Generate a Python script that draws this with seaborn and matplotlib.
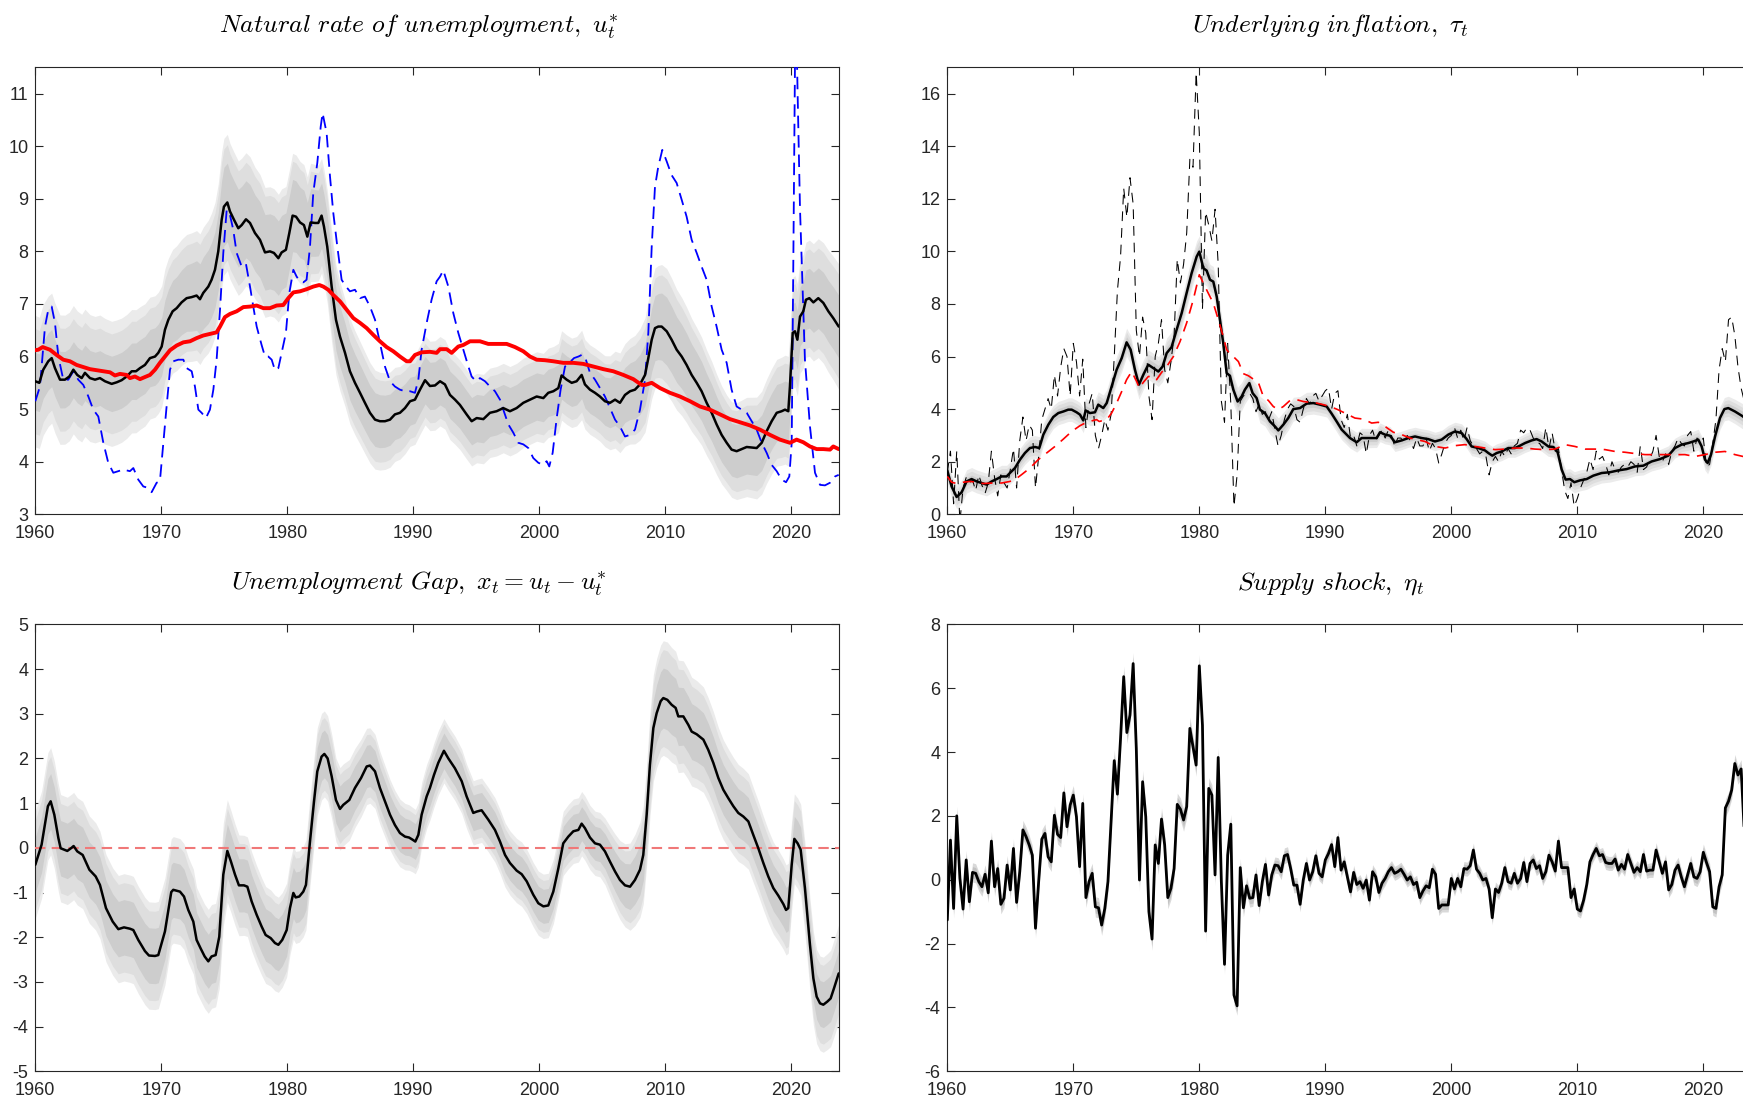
import numpy as np
import matplotlib
matplotlib.use("Agg")
import matplotlib.pyplot as plt
import seaborn as sns

# ---------------- data ----------------
# Natural rate of unemployment u*_t (median)
ustar_t = [1960.0, 1960.32, 1960.63, 1961.03, 1961.3, 1961.56, 1961.96, 1962.35, 1962.7, 1963.02, 1963.33, 1963.68,
           1963.94, 1964.34, 1964.74, 1965.13, 1965.53, 1966.06, 1966.46, 1966.85, 1967.25, 1967.65, 1967.99, 1968.31,
           1968.7, 1969.1, 1969.5, 1969.76, 1970.03, 1970.29, 1970.56, 1970.9, 1971.22, 1971.61, 1972.01, 1972.41,
           1972.8, 1973.07, 1973.33, 1973.73, 1973.99, 1974.26, 1974.52, 1974.79, 1974.97, 1975.24, 1975.45, 1975.77,
           1976.11, 1976.38, 1976.72, 1977.04, 1977.43, 1977.83, 1978.23, 1978.62, 1978.94, 1979.29, 1979.55, 1979.89,
           1980.16, 1980.42, 1980.69, 1981.01, 1981.32, 1981.59, 1981.85, 1982.2, 1982.46, 1982.72, 1982.91, 1983.17,
           1983.52, 1983.86, 1984.18, 1984.58, 1984.97, 1985.37, 1985.77, 1986.16, 1986.56, 1986.96, 1987.35, 1987.75,
           1988.15, 1988.54, 1988.94, 1989.34, 1989.74, 1990.13, 1990.53, 1990.93, 1991.32, 1991.72, 1992.12, 1992.51,
           1992.91, 1993.31, 1993.7, 1994.23, 1994.63, 1995.03, 1995.56, 1996.08, 1996.61, 1997.14, 1997.67, 1998.2,
           1998.73, 1999.26, 1999.79, 2000.32, 2000.71, 2001.11, 2001.51, 2001.77, 2002.17, 2002.57, 2002.96, 2003.36,
           2003.62, 2004.02, 2004.42, 2004.81, 2005.21, 2005.61, 2006.01, 2006.4, 2006.8, 2007.2, 2007.59, 2007.99,
           2008.39, 2008.65, 2008.92, 2009.18, 2009.44, 2009.71, 2010.11, 2010.5, 2010.9, 2011.3, 2011.69, 2012.09,
           2012.49, 2012.88, 2013.28, 2013.68, 2014.07, 2014.47, 2014.87, 2015.26, 2015.66, 2016.06, 2016.46, 2016.85,
           2017.25, 2017.65, 2018.04, 2018.44, 2018.84, 2019.23, 2019.5, 2019.76, 2019.89, 2020.11, 2020.29, 2020.48,
           2020.69, 2020.95, 2021.16, 2021.43, 2021.75, 2022.14, 2022.54, 2022.94, 2023.33, 2023.76]
ustar_v = [5.53, 5.50, 5.75, 5.91, 5.97, 5.78, 5.56, 5.56, 5.62, 5.75, 5.65, 5.59,
           5.69, 5.59, 5.56, 5.59, 5.53, 5.48, 5.51, 5.55, 5.62, 5.72, 5.72, 5.78,
           5.84, 5.97, 6.00, 6.07, 6.19, 6.51, 6.70, 6.86, 6.92, 7.03, 7.11, 7.13,
           7.16, 7.09, 7.21, 7.33, 7.46, 7.65, 8.00, 8.60, 8.85, 8.93, 8.76, 8.60,
           8.44, 8.50, 8.61, 8.54, 8.35, 8.22, 7.98, 8.00, 7.97, 7.87, 7.98, 8.03,
           8.35, 8.68, 8.66, 8.55, 8.50, 8.28, 8.55, 8.54, 8.54, 8.68, 8.47, 8.09,
           7.33, 6.70, 6.38, 6.07, 5.72, 5.50, 5.31, 5.12, 4.93, 4.80, 4.77, 4.77,
           4.80, 4.90, 4.93, 5.02, 5.15, 5.18, 5.37, 5.55, 5.44, 5.45, 5.53, 5.47,
           5.27, 5.18, 5.08, 4.90, 4.77, 4.83, 4.81, 4.93, 4.96, 5.02, 4.96, 5.02,
           5.12, 5.18, 5.24, 5.21, 5.31, 5.34, 5.40, 5.64, 5.56, 5.50, 5.53, 5.65,
           5.47, 5.37, 5.31, 5.24, 5.15, 5.12, 5.18, 5.12, 5.27, 5.34, 5.37, 5.47,
           5.65, 5.97, 6.32, 6.54, 6.57, 6.57, 6.48, 6.32, 6.13, 6.00, 5.84, 5.65,
           5.50, 5.34, 5.12, 4.93, 4.71, 4.51, 4.36, 4.23, 4.20, 4.24, 4.28, 4.27,
           4.26, 4.36, 4.58, 4.77, 4.93, 4.96, 4.99, 4.96, 5.43, 6.45, 6.48, 6.32,
           6.76, 6.86, 7.08, 7.11, 7.03, 7.11, 7.02, 6.86, 6.73, 6.57]

# Red line: reference natural-rate estimate
nairu_t = [1960.0, 1960.24, 1960.58, 1961.16, 1961.69, 1962.22, 1962.75, 1963.28, 1963.81, 1964.34, 1964.87, 1965.4,
           1965.93, 1966.32, 1966.72, 1967.25, 1967.51, 1967.91, 1968.31, 1968.7, 1969.1, 1969.5, 1969.89, 1970.29,
           1970.69, 1971.22, 1971.75, 1972.28, 1972.8, 1973.33, 1973.86, 1974.39, 1974.66, 1975.05, 1975.45, 1975.98,
           1976.51, 1977.04, 1977.57, 1978.1, 1978.62, 1979.15, 1979.68, 1980.08, 1980.48, 1981.01, 1981.53, 1982.06,
           1982.54, 1982.86, 1983.25, 1983.65, 1984.18, 1984.71, 1985.24, 1985.77, 1986.3, 1986.83, 1987.35, 1987.88,
           1988.41, 1988.94, 1989.47, 1989.74, 1990.13, 1990.66, 1991.32, 1991.85, 1992.12, 1992.65, 1993.04, 1993.57,
           1993.97, 1994.5, 1995.29, 1995.95, 1996.61, 1997.41, 1998.07, 1998.73, 1999.26, 1999.79, 2000.45, 2001.11,
           2001.9, 2002.7, 2003.49, 2004.29, 2005.08, 2005.87, 2006.67, 2007.46, 2008.12, 2008.39, 2008.92, 2009.58,
           2010.37, 2011.16, 2011.96, 2012.75, 2013.54, 2014.34, 2015.13, 2015.93, 2016.72, 2017.51, 2018.31, 2019.1,
           2019.89, 2020.42, 2020.95, 2021.48, 2022.01, 2022.54, 2023.07, 2023.33, 2023.76]
nairu_v = [6.12, 6.13, 6.18, 6.13, 6.03, 5.94, 5.91, 5.84, 5.80, 5.76, 5.74, 5.72,
           5.70, 5.64, 5.67, 5.65, 5.59, 5.62, 5.57, 5.61, 5.65, 5.75, 5.88, 6.00,
           6.12, 6.21, 6.27, 6.29, 6.35, 6.40, 6.43, 6.46, 6.57, 6.75, 6.81, 6.86,
           6.94, 6.95, 6.97, 6.92, 6.92, 6.97, 6.98, 7.11, 7.22, 7.24, 7.28, 7.33,
           7.36, 7.33, 7.27, 7.17, 7.05, 6.89, 6.73, 6.64, 6.54, 6.41, 6.29, 6.18,
           6.10, 6.00, 5.91, 5.91, 6.03, 6.08, 6.09, 6.07, 6.14, 6.14, 6.07, 6.19,
           6.22, 6.29, 6.29, 6.24, 6.24, 6.24, 6.18, 6.10, 6.00, 5.94, 5.93, 5.91,
           5.88, 5.88, 5.86, 5.81, 5.76, 5.72, 5.65, 5.57, 5.46, 5.46, 5.50, 5.40,
           5.31, 5.24, 5.15, 5.05, 4.99, 4.90, 4.81, 4.75, 4.69, 4.61, 4.51, 4.42,
           4.36, 4.42, 4.37, 4.29, 4.24, 4.24, 4.23, 4.29, 4.24]

# Blue dashed: unemployment rate u_t
unemp_t = [1960.0, 1960.37, 1960.77, 1961.03, 1961.3, 1961.56, 1961.83, 1962.22, 1962.62, 1963.02, 1963.41, 1963.81,
           1964.21, 1964.6, 1965.0, 1965.4, 1965.79, 1966.19, 1966.59, 1966.98, 1967.51, 1967.78, 1968.17, 1968.57,
           1968.97, 1969.23, 1969.63, 1969.89, 1970.16, 1970.42, 1970.69, 1970.95, 1971.35, 1971.75, 1972.01, 1972.41,
           1972.67, 1972.94, 1973.2, 1973.54, 1973.86, 1974.13, 1974.39, 1974.66, 1974.92, 1975.19, 1975.45, 1975.71,
           1975.98, 1976.38, 1976.72, 1977.04, 1977.3, 1977.57, 1977.96, 1978.23, 1978.49, 1978.76, 1979.02, 1979.29,
           1979.55, 1979.89, 1980.16, 1980.48, 1980.74, 1981.01, 1981.27, 1981.53, 1981.8, 1982.06, 1982.38, 1982.65,
           1982.8, 1983.12, 1983.39, 1983.65, 1983.97, 1984.31, 1984.66, 1984.97, 1985.37, 1985.77, 1986.16, 1986.56,
           1986.96, 1987.35, 1987.75, 1988.15, 1988.54, 1988.94, 1989.34, 1989.74, 1990.13, 1990.4, 1990.66, 1991.06,
           1991.45, 1991.85, 1992.12, 1992.38, 1992.78, 1993.17, 1993.57, 1993.97, 1994.37, 1994.63, 1994.97, 1995.29,
           1995.69, 1996.08, 1996.48, 1996.88, 1997.14, 1997.54, 1997.94, 1998.33, 1998.73, 1999.13, 1999.52, 1999.92,
           2000.32, 2000.58, 2000.79, 2001.06, 2001.38, 2001.69, 2002.04, 2002.38, 2002.75, 2003.1, 2003.36, 2003.62,
           2004.02, 2004.42, 2004.81, 2005.21, 2005.61, 2006.01, 2006.4, 2006.8, 2007.2, 2007.59, 2007.99, 2008.39,
           2008.65, 2008.92, 2009.18, 2009.44, 2009.76, 2010.11, 2010.5, 2010.9, 2011.3, 2011.69, 2012.09, 2012.49,
           2012.88, 2013.28, 2013.68, 2014.07, 2014.47, 2014.87, 2015.26, 2015.66, 2016.06, 2016.46, 2016.85, 2017.25,
           2017.65, 2018.04, 2018.44, 2018.84, 2019.23, 2019.58, 2019.84, 2020.03, 2020.16, 2020.34, 2020.5, 2020.69,
           2021.08, 2021.48, 2021.88, 2022.28, 2022.67, 2023.07, 2023.47, 2023.76]
unemp_v = [5.15, 5.43, 6.57, 6.89, 6.95, 6.64, 6.00, 5.56, 5.56, 5.72, 5.56, 5.46,
           5.24, 4.99, 4.86, 4.36, 3.98, 3.79, 3.82, 3.85, 3.82, 3.88, 3.66, 3.53,
           3.50, 3.42, 3.60, 3.63, 4.36, 5.05, 5.75, 5.91, 5.94, 5.94, 5.78, 5.72,
           5.43, 4.99, 4.93, 4.83, 4.99, 5.37, 5.94, 6.89, 7.97, 8.79, 8.69, 8.41,
           7.97, 7.71, 7.76, 7.33, 6.95, 6.57, 6.22, 6.00, 6.00, 5.94, 5.74, 5.78,
           6.07, 6.45, 7.21, 7.65, 7.52, 7.43, 7.41, 7.46, 8.09, 9.11, 9.68, 10.37,
           10.63, 10.25, 9.42, 8.73, 8.09, 7.46, 7.33, 7.24, 7.27, 7.11, 7.14, 6.95,
           6.70, 6.26, 5.81, 5.53, 5.43, 5.37, 5.34, 5.34, 5.31, 5.56, 6.13, 6.64,
           7.08, 7.43, 7.52, 7.64, 7.33, 6.83, 6.45, 6.13, 5.81, 5.62, 5.53, 5.59,
           5.53, 5.43, 5.34, 5.18, 4.99, 4.71, 4.55, 4.36, 4.33, 4.26, 4.07, 3.98,
           3.94, 4.01, 3.91, 4.17, 4.83, 5.37, 5.81, 5.88, 5.97, 6.00, 6.03, 6.00,
           5.69, 5.56, 5.40, 5.24, 5.02, 4.80, 4.67, 4.48, 4.51, 4.61, 4.99, 5.56,
           6.45, 8.09, 9.23, 9.61, 9.93, 9.71, 9.45, 9.30, 8.98, 8.66, 8.22, 7.97,
           7.71, 7.46, 6.95, 6.57, 6.13, 5.88, 5.37, 5.05, 4.99, 4.93, 4.77, 4.61,
           4.36, 4.17, 3.94, 3.82, 3.66, 3.61, 3.72, 4.36, 7.84, 13.0, 11.0, 8.80,
           5.94, 4.67, 3.79, 3.56, 3.55, 3.60, 3.72, 3.75]

# Underlying inflation tau_t (median)
tau_t = [1960.0, 1960.34, 1960.74, 1961.14, 1961.53, 1961.93, 1962.33, 1962.72, 1963.12, 1963.52, 1963.92, 1964.31,
         1964.71, 1965.03, 1965.37, 1965.77, 1966.16, 1966.56, 1966.96, 1967.3, 1967.62, 1968.02, 1968.41, 1968.81,
         1969.21, 1969.6, 1969.87, 1970.26, 1970.53, 1970.79, 1970.98, 1971.32, 1971.72, 1971.98, 1972.38, 1972.65,
         1973.04, 1973.44, 1973.84, 1974.23, 1974.55, 1974.89, 1975.21, 1975.56, 1975.95, 1976.35, 1976.75, 1977.09,
         1977.41, 1977.8, 1978.2, 1978.6, 1978.99, 1979.39, 1979.79, 1980.0, 1980.32, 1980.58, 1980.85, 1981.11,
         1981.38, 1981.64, 1981.9, 1982.17, 1982.43, 1982.7, 1983.04, 1983.36, 1983.62, 1983.97, 1984.23, 1984.55,
         1984.81, 1985.21, 1985.61, 1986.01, 1986.27, 1986.67, 1987.06, 1987.46, 1987.99, 1988.52, 1989.05, 1989.58,
         1990.11, 1990.5, 1990.9, 1991.3, 1991.96, 1992.49, 1992.88, 1993.41, 1994.07, 1994.34, 1994.74, 1995.13,
         1995.53, 1996.06, 1996.59, 1997.12, 1997.65, 1998.17, 1998.7, 1999.23, 1999.76, 2000.29, 2000.82, 2001.22,
         2001.61, 2002.14, 2002.67, 2002.94, 2003.25, 2003.6, 2003.99, 2004.52, 2005.05, 2005.45, 2005.85, 2006.38,
         2006.77, 2007.17, 2007.7, 2008.1, 2008.44, 2008.76, 2009.07, 2009.42, 2009.76, 2010.21, 2010.74, 2011.27,
         2011.93, 2012.59, 2013.25, 2013.92, 2014.58, 2015.24, 2015.9, 2016.56, 2017.22, 2017.75, 2018.28, 2018.81,
         2019.21, 2019.6, 2019.87, 2020.13, 2020.34, 2020.61, 2020.93, 2021.32, 2021.67, 2021.98, 2022.51, 2023.15,
         2023.5, 2023.75]
tau_v = [1.67, 1.06, 0.66, 0.84, 1.25, 1.34, 1.25, 1.19, 1.13, 1.25, 1.34, 1.44,
         1.44, 1.60, 1.76, 2.08, 2.33, 2.52, 2.56, 2.52, 3.03, 3.41, 3.70, 3.85,
         3.91, 3.98, 3.98, 3.88, 3.79, 3.57, 3.95, 3.85, 3.88, 4.17, 4.04, 4.23,
         4.86, 5.50, 5.94, 6.54, 6.26, 5.50, 4.93, 5.31, 5.69, 5.56, 5.43, 5.62,
         6.13, 6.36, 7.02, 7.65, 8.41, 9.17, 9.80, 9.99, 9.36, 9.27, 8.92, 8.85,
         8.28, 7.40, 6.51, 5.37, 5.27, 4.74, 4.29, 4.48, 4.74, 4.99, 4.61, 4.42,
         3.98, 3.85, 3.53, 3.34, 3.19, 3.41, 3.66, 4.00, 4.04, 4.21, 4.23, 4.17,
         4.10, 3.83, 3.53, 3.22, 2.90, 2.74, 2.90, 2.90, 2.90, 3.12, 3.03, 2.99,
         2.74, 2.81, 2.90, 2.96, 2.90, 2.86, 2.77, 2.84, 3.03, 3.15, 3.09, 2.86,
         2.58, 2.52, 2.43, 2.33, 2.23, 2.33, 2.39, 2.52, 2.52, 2.61, 2.71, 2.81,
         2.86, 2.77, 2.58, 2.56, 2.36, 1.70, 1.32, 1.34, 1.22, 1.29, 1.34, 1.47,
         1.57, 1.60, 1.67, 1.72, 1.82, 1.85, 2.01, 2.10, 2.23, 2.52, 2.65, 2.71,
         2.77, 2.84, 2.58, 2.08, 1.95, 2.27, 2.96, 3.66, 4.00, 4.04, 3.91, 3.72,
         3.55, 3.40]

# Red dashed: long-run inflation expectations
expect_t = [1960.0, 1960.34, 1960.74, 1961.27, 1961.8, 1962.33, 1962.86, 1963.65, 1964.31, 1964.97, 1965.37, 1965.9,
            1966.56, 1967.22, 1967.88, 1968.54, 1969.21, 1969.87, 1970.53, 1971.06, 1971.59, 1971.85, 1972.06, 1972.38,
            1972.65, 1973.04, 1973.44, 1973.84, 1974.23, 1974.63, 1975.03, 1975.24, 1975.56, 1975.95, 1976.35, 1976.61,
            1977.01, 1977.41, 1977.94, 1978.47, 1978.99, 1979.52, 1980.0, 1980.32, 1980.71, 1981.11, 1981.51, 1981.9,
            1982.17, 1982.49, 1982.7, 1983.1, 1983.49, 1983.89, 1984.29, 1984.68, 1985.08, 1985.48, 1985.87, 1986.27,
            1986.67, 1987.2, 1987.72, 1988.25, 1988.78, 1989.31, 1989.84, 1990.37, 1990.9, 1991.56, 1992.35, 1993.02,
            1993.68, 1994.21, 1994.74, 1995.4, 1996.06, 1996.72, 1997.25, 1997.91, 1998.7, 1999.5, 2000.29, 2001.08,
            2001.88, 2002.67, 2003.47, 2004.26, 2005.05, 2005.85, 2006.64, 2007.43, 2008.23, 2009.02, 2009.81, 2010.61,
            2011.4, 2012.2, 2012.99, 2013.78, 2014.58, 2015.37, 2016.16, 2016.96, 2017.75, 2018.54, 2019.34, 2020.13,
            2020.93, 2021.72, 2022.51, 2023.15, 2023.75]
expect_v = [1.44, 1.22, 1.17, 1.22, 1.25, 1.22, 1.17, 1.19, 1.19, 1.25, 1.32, 1.51,
            1.76, 2.08, 2.33, 2.58, 2.86, 3.15, 3.37, 3.50, 3.57, 3.60, 3.53, 3.57,
            3.60, 3.85, 4.23, 4.67, 5.12, 5.43, 5.05, 4.80, 5.02, 5.24, 5.24, 5.12,
            5.40, 5.62, 6.00, 6.57, 7.27, 8.16, 9.11, 8.79, 8.41, 8.03, 7.40, 6.76,
            6.26, 6.07, 6.00, 5.81, 5.35, 5.27, 5.14, 5.02, 4.48, 4.33, 4.10, 3.98,
            4.10, 4.33, 4.36, 4.29, 4.26, 4.23, 4.17, 4.10, 4.00, 3.85, 3.66, 3.62,
            3.47, 3.50, 3.34, 3.12, 3.03, 2.90, 2.84, 2.77, 2.58, 2.52, 2.61, 2.65,
            2.58, 2.52, 2.46, 2.48, 2.52, 2.52, 2.48, 2.46, 2.48, 2.65, 2.58, 2.48,
            2.48, 2.46, 2.39, 2.36, 2.31, 2.27, 2.27, 2.27, 2.27, 2.27, 2.20, 2.27,
            2.36, 2.39, 2.27, 2.20, 2.20]

# Quarterly series, 1960Q1 - 2023Q4
quarter_t = [1960 + q / 4 for q in range(256)]

# Black thin dashed: quarterly inflation
infl_v = [1.6, 2.4, 0.4, 2.4,  -0.3, 1.0, 1.4, 1.2,  1.3, 0.9, 1.5, 1.1,  0.8, 1.2, 2.4, 1.4,
          0.7, 1.5, 1.2, 1.0,  1.7, 2.5, 1.0, 2.8,  3.7, 2.8, 3.4, 3.2,  1.0, 2.2, 3.6, 4.0,
          4.4, 4.0, 5.3, 4.5,  5.6, 6.3, 6.0, 4.5,  6.5, 5.8, 4.5, 5.9,  3.3, 4.2, 4.6, 3.0,
          2.5, 3.0, 3.6, 3.2,  3.8, 6.0, 8.5, 9.8,  12.4, 11.3, 12.8, 11.8,  7.0, 6.0, 7.5, 6.9,
          4.5, 3.6, 6.0, 6.5,  7.4, 5.5, 5.0, 5.8,  6.8, 9.7, 8.8, 9.5,  10.7, 13.5, 13.2, 16.8,
          14.5, 7.8, 11.5, 11.0,  10.4, 11.6, 9.5, 4.3,  3.5, 6.5, 4.2, 0.3,  1.5, 4.3, 4.5, 4.6,
          4.6, 4.4, 3.9, 4.2,  3.8, 3.9, 3.6, 3.9,  3.2, 2.6, 3.0, 3.6,  4.0, 4.2, 4.1, 3.6,
          3.5, 4.0, 4.4, 4.2,  4.5, 4.6, 4.3, 4.5,  4.7, 4.8, 4.0, 4.6,  4.7, 3.6, 3.3, 3.8,
          2.9, 3.0, 2.6, 3.1,  3.0, 2.3, 3.0, 3.2,  2.8, 3.0, 3.2, 2.9,  3.2, 3.0, 2.6, 2.9,
          2.9, 2.7, 3.0, 2.8,  2.5, 2.9, 2.6, 2.6,  2.9, 2.4, 2.7, 2.5,  1.95, 2.3, 2.7, 2.9,
          3.0, 3.3, 2.9, 3.2,  2.8, 3.3, 2.8, 2.6,  2.5, 2.3, 2.4, 2.2,  1.5, 2.0, 2.2, 2.0,
          2.4, 2.2, 2.5, 2.3,  2.6, 2.7, 3.2, 3.1,  3.3, 3.2, 2.9, 2.7,  2.7, 2.5, 3.3, 2.5,
          3.1, 2.4, 2.5, 1.7,  0.9, 0.6, 1.2, 0.3,  0.6, 1.0, 1.3, 1.6,  2.1, 1.7, 2.4, 2.1,
          2.2, 1.9, 1.5, 2.0,  1.7, 1.6, 1.8, 1.9,  1.8, 2.0, 1.9, 1.6,  2.6, 1.7, 1.8, 2.1,
          2.4, 3.0, 2.2, 2.0,  2.3, 1.9, 2.4, 2.6,  2.9, 2.7, 2.6, 3.0,  3.15, 2.4, 2.9, 2.7,
          2.9, 1.8, 1.9, 2.7,  3.6, 5.5, 6.3, 5.8,  7.4, 7.5, 6.8, 5.6,  4.8, 4.3, 3.8, 3.4]

# Unemployment gap x_t (median)
gap_t = [1960.0, 1960.5, 1961.0, 1961.22, 1961.51, 1961.83, 1962.01, 1962.54, 1962.88, 1963.04, 1963.33, 1963.76,
         1964.29, 1964.79, 1965.13, 1965.61, 1966.14, 1966.59, 1967.04, 1967.51, 1967.78, 1968.17, 1968.7, 1969.02,
         1969.5, 1969.76, 1970.29, 1970.79, 1970.95, 1971.48, 1971.8, 1972.14, 1972.54, 1972.8, 1973.12, 1973.44,
         1973.73, 1973.99, 1974.31, 1974.6, 1974.92, 1975.24, 1975.53, 1975.85, 1976.16, 1976.56, 1976.83, 1977.17,
         1977.57, 1977.96, 1978.28, 1978.68, 1979.02, 1979.29, 1979.6, 1979.95, 1980.21, 1980.48, 1980.66, 1980.95,
         1981.27, 1981.48, 1981.8, 1982.12, 1982.38, 1982.72, 1982.94, 1983.2, 1983.52, 1983.86, 1984.18, 1984.44,
         1984.92, 1985.37, 1985.85, 1986.3, 1986.56, 1986.96, 1987.35, 1987.75, 1988.15, 1988.54, 1988.94, 1989.34,
         1989.66, 1989.95, 1990.16, 1990.4, 1990.66, 1991.06, 1991.32, 1991.64, 1991.98, 1992.43, 1992.78, 1993.3,
         1993.84, 1994.23, 1994.76, 1995.03, 1995.42, 1995.95, 1996.48, 1996.88, 1997.28, 1997.67, 1998.2, 1998.6,
         1999.0, 1999.52, 1999.92, 2000.32, 2000.71, 2001.11, 2001.51, 2001.9, 2002.3, 2002.7, 2003.1, 2003.36,
         2003.62, 2004.02, 2004.42, 2004.81, 2005.21, 2005.61, 2006.01, 2006.4, 2006.8, 2007.2, 2007.59, 2007.99,
         2008.25, 2008.52, 2008.78, 2009.05, 2009.31, 2009.63, 2009.84, 2010.16, 2010.5, 2010.82, 2011.03, 2011.43,
         2011.83, 2012.09, 2012.49, 2013.02, 2013.41, 2013.81, 2014.21, 2014.6, 2015.0, 2015.4, 2015.79, 2016.19,
         2016.59, 2016.98, 2017.38, 2017.78, 2018.17, 2018.57, 2018.97, 2019.37, 2019.58, 2019.76, 2020.03, 2020.24,
         2020.5, 2020.74, 2021.08, 2021.48, 2021.75, 2022.01, 2022.28, 2022.54, 2022.86, 2023.12, 2023.39, 2023.76]
gap_v = [-0.38, 0.07, 0.93, 1.04, 0.74, 0.22, -0.01, -0.07, 0.00, 0.04, -0.08, -0.16,
         -0.49, -0.64, -0.83, -1.35, -1.65, -1.82, -1.78, -1.81, -1.84, -2.06, -2.31, -2.41,
         -2.42, -2.40, -1.87, -0.99, -0.94, -0.98, -1.09, -1.39, -1.65, -2.06, -2.25, -2.43,
         -2.54, -2.43, -2.40, -1.99, -0.60, -0.07, -0.31, -0.60, -0.84, -0.84, -0.87, -1.20,
         -1.50, -1.76, -1.95, -2.02, -2.13, -2.17, -2.06, -1.84, -1.35, -1.01, -1.11, -1.09,
         -0.98, -0.83, 0.14, 1.04, 1.71, 2.04, 2.10, 2.00, 1.60, 1.07, 0.87, 0.96,
         1.07, 1.34, 1.56, 1.82, 1.84, 1.71, 1.34, 1.04, 0.74, 0.51, 0.33, 0.25,
         0.23, 0.18, 0.14, 0.29, 0.74, 1.15, 1.34, 1.63, 1.90, 2.17, 2.00, 1.78,
         1.49, 1.15, 0.78, 0.81, 0.84, 0.63, 0.40, 0.14, -0.16, -0.34, -0.51, -0.59,
         -0.75, -1.05, -1.24, -1.31, -1.29, -0.98, -0.46, 0.10, 0.25, 0.37, 0.40, 0.54,
         0.44, 0.23, 0.10, 0.07, -0.08, -0.31, -0.53, -0.72, -0.84, -0.87, -0.72, -0.49,
         -0.16, 0.74, 1.86, 2.68, 3.01, 3.28, 3.35, 3.31, 3.20, 3.13, 2.94, 2.94,
         2.75, 2.60, 2.54, 2.42, 2.19, 1.90, 1.56, 1.30, 1.11, 0.93, 0.78, 0.70,
         0.59, 0.29, -0.01, -0.34, -0.64, -0.90, -1.07, -1.26, -1.39, -1.35, -0.38, 0.20,
         0.10, -0.04, -0.90, -2.17, -2.92, -3.33, -3.48, -3.51, -3.44, -3.37, -3.14, -2.81]

# Supply shock eta_t (quarterly median)
shock_v = [-1.26, 1.24, -0.90, 2.00,  0.04, -0.92, 0.62, -0.69,  0.23, 0.20, -0.06, -0.22,  0.17, -0.41, 1.21, -0.22,
           0.35, -0.77, -0.58, 0.46,  -0.32, 0.98, -0.71, 0.25,  1.56, 1.35, 1.09, 0.77,  -1.52, -0.06, 1.27, 1.45,
           0.72, 0.56, 2.02, 1.42,  1.32, 2.72, 1.66, 2.34,  2.65, 1.97, 0.41, 2.39,  -0.56, -0.06, 0.20, -0.85,
           -0.88, -1.42, -0.90, -0.06,  1.82, 3.73, 2.68, 4.43,  6.36, 4.61, 5.16, 6.77,  4.11, -0.01, 3.07, 1.97,
           -1.00, -1.86, 1.09, 0.51,  1.90, 1.09, -0.56, -0.27,  0.35, 2.36, 2.21, 1.87,  2.29, 4.74, 4.16, 3.59,
           6.70, 4.84, -1.61, 2.86,  2.65, 0.15, 3.83, -0.06,  -2.65, 0.77, 1.74, -3.61,  -3.95, 0.38, -0.88, -0.19,
           -0.58, -0.56, 0.15, -0.81,  -0.06, 0.48, -0.48, 0.15,  0.46, 0.44, 0.25, 0.75,  0.79, 0.35, -0.17, -0.17,
           -0.77, -0.01, 0.51, -0.01,  0.25, 0.75, 0.20, 0.09,  0.62, 0.82, 1.10, 0.41,  1.32, 0.30, 0.56, 0.09,
           -0.38, 0.23, -0.15, -0.06,  -0.27, -0.01, -0.64, 0.25,  0.09, -0.40, -0.11, 0.04,  0.25, 0.38, 0.20, 0.25,
           0.33, 0.17, -0.01, 0.09,  -0.15, -0.08, -0.56, -0.35,  -0.19, -0.25, 0.33, 0.17,  -0.90, -0.79, -0.79, -0.79,
           0.04, -0.29, 0.04, -0.22,  0.35, 0.33, 0.44, 0.93,  0.33, 0.20, -0.01, 0.04,  -0.29, -1.19, -0.29, -0.40,
           -0.11, 0.38, -0.06, -0.11,  0.20, -0.11, 0.04, 0.54,  -0.06, 0.51, 0.62, 0.35,  0.44, 0.04, 0.25, 0.77,
           0.56, 0.27, 1.21, 0.38,  0.38, 0.38, -0.56, -0.29,  -0.92, -0.98, -0.64, -0.15,  0.56, 0.79, 0.98, 0.75,
           0.79, 0.54, 0.51, 0.51,  0.65, 0.30, 0.48, 0.33,  0.79, 0.51, 0.23, 0.38,  0.25, 0.79, 0.27, 0.30,
           0.30, 0.93, 0.56, 0.20,  0.56, -0.32, -0.15, 0.30,  0.46, 0.09, -0.22, 0.15,  0.51, 0.09, 0.04, 0.25,
           0.86, 0.54, 0.25, -0.85,  -0.90, -0.22, 0.15, 2.25,  2.46, 2.81, 3.64, 3.28,  3.47, 1.50, 1.00, 0.80]

# Credible-band half-widths (inner, middle, outer) read at these years
band_years = [1960, 1965, 1970, 1975, 1980, 1985, 1990, 1995, 2000, 2005, 2010, 2015, 2020, 2024]
ustar_w_inner = [0.55, 0.52, 0.55, 0.75, 0.70, 0.55, 0.45, 0.45, 0.45, 0.45, 0.65, 0.50, 0.55, 0.60]
ustar_w_mid = [1.00, 0.95, 0.95, 1.10, 1.05, 0.85, 0.70, 0.70, 0.70, 0.70, 1.00, 0.75, 0.90, 1.00]
ustar_w_outer = [1.25, 1.20, 1.15, 1.30, 1.20, 1.00, 0.85, 0.85, 0.85, 0.85, 1.20, 0.90, 1.05, 1.20]
tau_w_inner = [0.15, 0.15, 0.18, 0.22, 0.25, 0.20, 0.15, 0.13, 0.13, 0.13, 0.15, 0.13, 0.15, 0.20]
tau_w_mid = [0.30, 0.30, 0.32, 0.40, 0.45, 0.35, 0.28, 0.25, 0.25, 0.25, 0.28, 0.25, 0.28, 0.35]
tau_w_outer = [0.45, 0.42, 0.45, 0.55, 0.60, 0.50, 0.40, 0.35, 0.35, 0.35, 0.40, 0.35, 0.40, 0.50]
gap_w_inner = [0.62, 0.62, 0.62, 0.60, 0.58, 0.50, 0.40, 0.40, 0.38, 0.38, 0.68, 0.55, 0.50, 0.52]
gap_w_mid = [1.00, 1.00, 1.00, 0.95, 0.90, 0.75, 0.60, 0.60, 0.58, 0.58, 1.10, 0.90, 0.85, 0.90]
gap_w_outer = [1.20, 1.20, 1.20, 1.15, 1.05, 0.90, 0.72, 0.72, 0.72, 0.72, 1.30, 1.10, 1.00, 1.10]
shock_w_inner = [0.18, 0.18, 0.18, 0.22, 0.22, 0.16, 0.14, 0.14, 0.14, 0.14, 0.14, 0.14, 0.16, 0.18]
shock_w_outer = [0.30, 0.30, 0.30, 0.35, 0.35, 0.26, 0.22, 0.22, 0.22, 0.22, 0.22, 0.22, 0.26, 0.30]

titles = [r"$Natural\ rate\ of\ unemployment,\ u_t^{*}$",
          r"$Underlying\ inflation,\ \tau_t$",
          r"$Unemployment\ Gap,\ x_t = u_t - u_t^{*}$",
          r"$Supply\ shock,\ \eta_t$"]
year_ticks = [1960, 1970, 1980, 1990, 2000, 2010, 2020]

# ---------------- styling ----------------
sns.set_style("ticks")
plt.rcParams["font.family"] = ["Liberation Sans Narrow", "Liberation Sans", "DejaVu Sans"]
plt.rcParams["mathtext.fontset"] = "cm"
plt.rcParams["lines.scale_dashes"] = False
plt.rcParams["axes.unicode_minus"] = False

AX_COL = "#262626"
BAND_COLS = ["#ebebeb", "#dedede", "#cdcdcd"]

fig = plt.figure(figsize=(17.43, 10.99), dpi=100)
W, H = 1743.0, 1099.0
axw, axh = 803.4 / W, 447.0 / H
ax1 = fig.add_axes([35.3 / W, 1 - 514.3 / H, axw, axh])
ax2 = fig.add_axes([947.3 / W, 1 - 514.3 / H, axw, axh])
ax3 = fig.add_axes([35.3 / W, 1 - 1071.3 / H, axw, axh])
ax4 = fig.add_axes([947.3 / W, 1 - 1071.3 / H, axw, axh])


def draw_bands(ax, t, v, widths, colors):
    t = np.asarray(t, float)
    v = np.asarray(v, float)
    for w, c in zip(widths, colors):
        hw = np.interp(t, band_years, w)
        ax.fill_between(t, v - hw, v + hw, color=c, lw=0, zorder=1)


def line(ax, t, v, **kw):
    sns.lineplot(x=np.asarray(t, float), y=np.asarray(v, float), ax=ax, sort=False,
                 estimator=None, errorbar=None, legend=False, **kw)


# Panel 1
draw_bands(ax1, ustar_t, ustar_v, [ustar_w_outer, ustar_w_mid, ustar_w_inner], BAND_COLS)
line(ax1, unemp_t, unemp_v, color="#0000ff", linewidth=1.3, linestyle=(0, (9, 5)), zorder=3)
line(ax1, ustar_t, ustar_v, color="black", linewidth=1.8, zorder=4)
line(ax1, nairu_t, nairu_v, color="#ff0000", linewidth=2.8, zorder=5)

# Panel 2
draw_bands(ax2, tau_t, tau_v, [tau_w_outer, tau_w_mid, tau_w_inner], BAND_COLS)
line(ax2, quarter_t, infl_v, color="black", linewidth=0.75, linestyle=(0, (7, 5)), zorder=3)
line(ax2, tau_t, tau_v, color="black", linewidth=1.8, zorder=4)
line(ax2, expect_t, expect_v, color="#ff0000", linewidth=1.2, linestyle=(0, (8, 5.5)), zorder=5)

# Panel 3
draw_bands(ax3, gap_t, gap_v, [gap_w_outer, gap_w_mid, gap_w_inner], BAND_COLS)
ax3.axhline(0, color="#f07878", linewidth=1.5, linestyle=(0, (7.5, 4.5)), zorder=3)
line(ax3, gap_t, gap_v, color="black", linewidth=1.8, zorder=4)

# Panel 4
draw_bands(ax4, quarter_t, shock_v, [shock_w_outer, shock_w_inner], ["#d9d9d9", "#c2c2c2"])
line(ax4, quarter_t, shock_v, color="black", linewidth=2.0, zorder=4)

ylims = [(3, 11.5), (0, 17), (-5, 5), (-6, 8)]
yticks = [range(3, 12), range(0, 17, 2), range(-5, 6), range(-6, 9, 2)]
for ax, title, yl, yt in zip([ax1, ax2, ax3, ax4], titles, ylims, yticks):
    ax.set_xlim(1960, 2023.76)
    ax.set_ylim(*yl)
    ax.set_xticks(year_ticks)
    ax.set_yticks(list(yt))
    ax.set_xlabel("")
    ax.set_ylabel("")
    ax.tick_params(direction="in", top=True, right=True, length=6, width=0.8,
                   color=AX_COL, labelcolor=AX_COL, labelsize=13)
    ax.tick_params(axis="x", pad=7.5)
    ax.tick_params(axis="y", pad=5)
    for s in ax.spines.values():
        s.set_color(AX_COL)
        s.set_linewidth(0.8)
        s.set_visible(True)
    ax.text(0.477, 1 + 35.0 / 447.0, title, transform=ax.transAxes, ha="center", va="baseline",
            fontsize=18.5, color="black")

fig.savefig("out.png", dpi=100)
